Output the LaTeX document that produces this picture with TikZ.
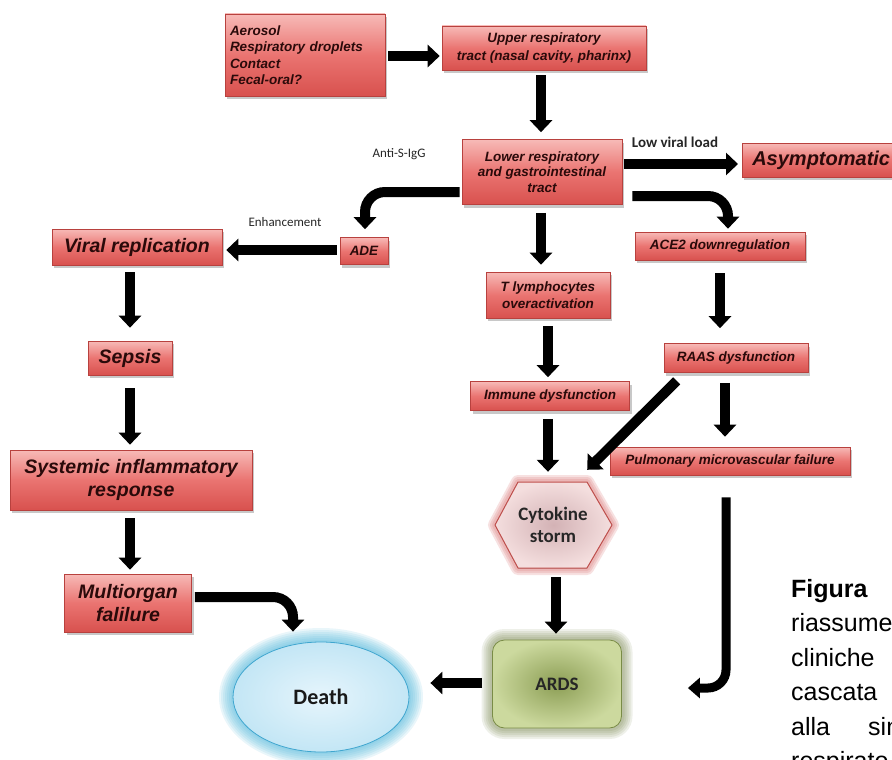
\documentclass[tikz,border=0pt]{standalone}
\usepackage{fontspec}
\setmainfont{Liberation Sans}
\newfontfamily\calib{Carlito}
\usetikzlibrary{arrows.meta,calc,shadows,shapes.geometric}

\definecolor{boxtop}{HTML}{F7BAB7}
\definecolor{boxmid}{HTML}{EA7471}
\definecolor{boxbot}{HTML}{D8514E}
\definecolor{boxline}{HTML}{B8413E}
\definecolor{boxtext}{HTML}{2A0A0A}
\definecolor{deathin}{HTML}{E6F5FC}
\definecolor{deathout}{HTML}{C3E6F5}
\definecolor{deathline}{HTML}{3FA6CF}
\definecolor{glowblue}{HTML}{4DB6DD}
\definecolor{ardsin}{HTML}{8C9E55}
\definecolor{ardsout}{HTML}{CCD99E}
\definecolor{ardsline}{HTML}{7A8C47}
\definecolor{glowgreen}{HTML}{5E6E2E}
\definecolor{hexin}{HTML}{D3B2B5}
\definecolor{hexout}{HTML}{F4DEDE}
\definecolor{hexline}{HTML}{C0504D}
\definecolor{glowred}{HTML}{D86A6A}

\tikzset{
  redbox/.style={draw=boxline, line width=0.6pt, top color=boxtop, bottom color=boxbot, middle color=boxmid,
    drop shadow={shadow xshift=2pt, shadow yshift=-3pt, opacity=0.3, fill=black!70},
    text=boxtext, font=\bfseries\itshape\fontsize{13.5}{16.5}\selectfont, align=center, inner sep=0pt},
  bigbox/.style={redbox, font=\bfseries\itshape\fontsize{19.5}{23}\selectfont},
  bigarrow/.style={line width=10pt, -{Triangle[width=22pt,length=12pt]}},
  jarrow/.style={line width=9pt, -{Triangle[width=20pt,length=12pt]}},
  lbl/.style={font=\calib\fontsize{13}{15}\selectfont, text=black!85, inner sep=0pt},
  captxt/.style={anchor=base west, inner sep=0pt, font=\fontsize{25}{30}\selectfont, text=black},
}

\begin{document}
\begin{tikzpicture}[x=1pt, y=-1pt]
\path[use as bounding box] (0,0) rectangle (892,760);
\clip (0,0) rectangle (892,760);
\fill[white] (0,0) rectangle (892,760);

% anchor points of the special shapes
\coordinate (deathc) at (321,697);
\coordinate (ardsc) at (557,684);
\coordinate (cytoc) at (553,525);

% glows
\foreach \d in {14,12,10,8,6,4,2}
  \fill[glowblue, opacity=0.12] (deathc) ellipse [x radius={88+\d}, y radius={55+\d}];
\foreach \d/\r in {11/23pt,9/21pt,7/19pt,5/17pt,3/15pt}
  \fill[glowgreen, opacity=0.1, rounded corners=\r] ($(ardsc)+(-64.5-\d,-44-\d)$) rectangle ($(ardsc)+(64.5+\d,44+\d)$);
\def\hexpts{($(cytoc)+(-58,0)$) -- ($(cytoc)+(-35,-43)$) -- ($(cytoc)+(34,-43)$) -- ($(cytoc)+(59,0)$) -- ($(cytoc)+(34,43)$) -- ($(cytoc)+(-35,43)$) -- cycle}
\foreach \w in {14,10,6}
  \draw[glowred, opacity=0.2, line width=\w pt, line join=round] \hexpts;
\filldraw[draw=hexline, line width=1pt, inner color=hexin, outer color=hexout, line join=round] \hexpts;

% nodes
\node[redbox, text width=150pt, align=left, inner xsep=5pt, minimum height=82pt] (src) at (305,55)
  {Aerosol\\Respiratory droplets\\Contact\\Fecal-oral?};
\node[redbox, minimum width=204pt, minimum height=44pt, font=\bfseries\itshape\fontsize{13.5}{18}\selectfont] (upper) at (544,48)
  {Upper respiratory\\tract (nasal cavity, pharinx)};
\node[redbox, minimum width=160pt, minimum height=65pt, font=\bfseries\itshape\fontsize{13.5}{15.5}\selectfont] (lower) at (542,172)
  {Lower respiratory\\and gastrointestinal\\tract};
\node[redbox, anchor=west, text width=150pt, align=left, inner xsep=10pt, minimum height=34pt, font=\bfseries\itshape\fontsize{20}{24}\selectfont] (asym) at (742,160) {Asymptomatic};
\node[redbox, minimum width=48pt, minimum height=27pt] (ade) at (364,251) {ADE};
\node[bigbox, minimum width=170pt, minimum height=36pt] (viral) at (137,247) {Viral replication};
\node[bigbox, minimum width=84pt, minimum height=34pt] (sepsis) at (130,358) {Sepsis};
\node[bigbox, minimum width=242pt, minimum height=60pt] (sirs) at (131,480) {Systemic inflammatory\\response};
\node[bigbox, minimum width=127pt, minimum height=58pt] (multi) at (128,603) {Multiorgan\\falilure};
\node[redbox, minimum width=124pt, minimum height=46pt] (tlym) at (548,295) {T lymphocytes\\overactivation};
\node[redbox, minimum width=159pt, minimum height=29pt] (immune) at (550,396) {Immune dysfunction};
\node[redbox, minimum width=170pt, minimum height=28pt] (ace2) at (720,246) {ACE2 downregulation};
\node[redbox, minimum width=144pt, minimum height=29pt] (raas) at (736,358) {RAAS dysfunction};
\node[redbox, minimum width=240pt, minimum height=28pt] (pulm) at (730,461) {Pulmonary microvascular failure};

\node[minimum width=116pt, minimum height=86pt, inner sep=0pt, align=center, text=black!85,
  font=\calib\bfseries\fontsize{19}{22}\selectfont] (cyto) at (cytoc) {Cytokine\\storm};
\node[rectangle, rounded corners=12pt, draw=ardsline, line width=0.8pt, inner color=ardsin, outer color=ardsout,
  minimum width=129pt, minimum height=88pt, text=black!85, font=\calib\bfseries\fontsize{19}{22}\selectfont] (ards) at (ardsc) {ARDS};
\node[ellipse, draw=deathline, line width=0.8pt, inner color=deathin, outer color=deathout,
  minimum width=176pt, minimum height=110pt, text=black!90, font=\calib\bfseries\fontsize{22}{24}\selectfont] (death) at (deathc) {Death};

% labels
\node[lbl, font=\calib\bfseries\fontsize{15}{17}\selectfont] (lvl) at (675,142) {Low viral load};
\node[lbl] (antis) at (399,154) {Anti-S-IgG};
\node[lbl] (enh) at (285,222) {Enhancement};

% connectors
\draw[bigarrow] ($(src.east)+(3,1)$) -- ($(upper.west)+(-2,8)$);
\draw[bigarrow] ($(upper.south)+(-3,5)$) -- ($(lower.north)+(-1,-7)$);
\draw[bigarrow] ($(lower.east)+(2,-8)$) -- ($(asym.west)+(-4,4)$);
\draw[bigarrow, rounded corners=20pt] ($(lower.west)+(-2,20)$) -| ($(ade.north)+(1,-8)$);
\draw[bigarrow] ($(ade.west)+(-3,-1)$) -- ($(viral.east)+(4,3)$);
\draw[bigarrow] ($(viral.south)+(-7,7)$) -- ($(sepsis.north)+(0,-13)$);
\draw[bigarrow] ($(sepsis.south)+(0,13)$) -- ($(sirs.north)+(-1,-5)$);
\draw[bigarrow] ($(sirs.south)+(-1,8)$) -- ($(multi.north)+(2,-4)$);
\draw[bigarrow, rounded corners=20pt] ($(multi.east)+(3,-6)$) -| ($(death.north)+(-28,-10)$);
\draw[bigarrow] ($(lower.south)+(-1,8)$) -- ($(tlym.north)+(-7,-7)$);
\draw[bigarrow] ($(tlym.south)+(0,8)$) -- ($(immune.north)+(-2,-4)$);
\draw[bigarrow] ($(immune.south)+(-2,8)$) -- ($(cyto.north)+(-5,-10)$);
\draw[bigarrow] ($(cyto.south)+(3,9)$) -- ($(ards.north)+(-1,-6)$);
\draw[bigarrow] ($(ards.west)+(-10,-1)$) -- ($(death.east)+(21,-14)$);
\draw[bigarrow, rounded corners=20pt] ($(lower.east)+(10,24)$) -| ($(ace2.north)+(8,-3)$);
\draw[bigarrow] ($(ace2.south)+(0,13)$) -- ($(raas.north)+(-16,-15)$);
\draw[bigarrow] ($(raas.south west)+(13,8)$) -- ($(cyto.north east)+(-24,-12)$);
\draw[bigarrow] ($(raas.south)+(-11,10)$) -- ($(pulm.north)+(-5,-10)$);
\draw[jarrow, rounded corners=18pt] ($(pulm.south)+(-4,22)$) |- ($(ards.east)+(66,4)$);

% caption (cut by the picture's edge, as in the reference)
\node[captxt, font=\bfseries\fontsize{25}{30}\selectfont] (cap1) at (791,597) {Figura};
\node[captxt] (cap2) at (791,631) {riassume};
\node[captxt] (cap3) at (791,666) {cliniche};
\node[captxt] (cap4) at (791,700) {cascata};
\node[captxt] (cap5) at (791,735) {alla};
\node[captxt] (cap5b) at (868,735) {sin};
\node[captxt] (cap6) at (791,769) {respirato};
\end{tikzpicture}
\end{document}
